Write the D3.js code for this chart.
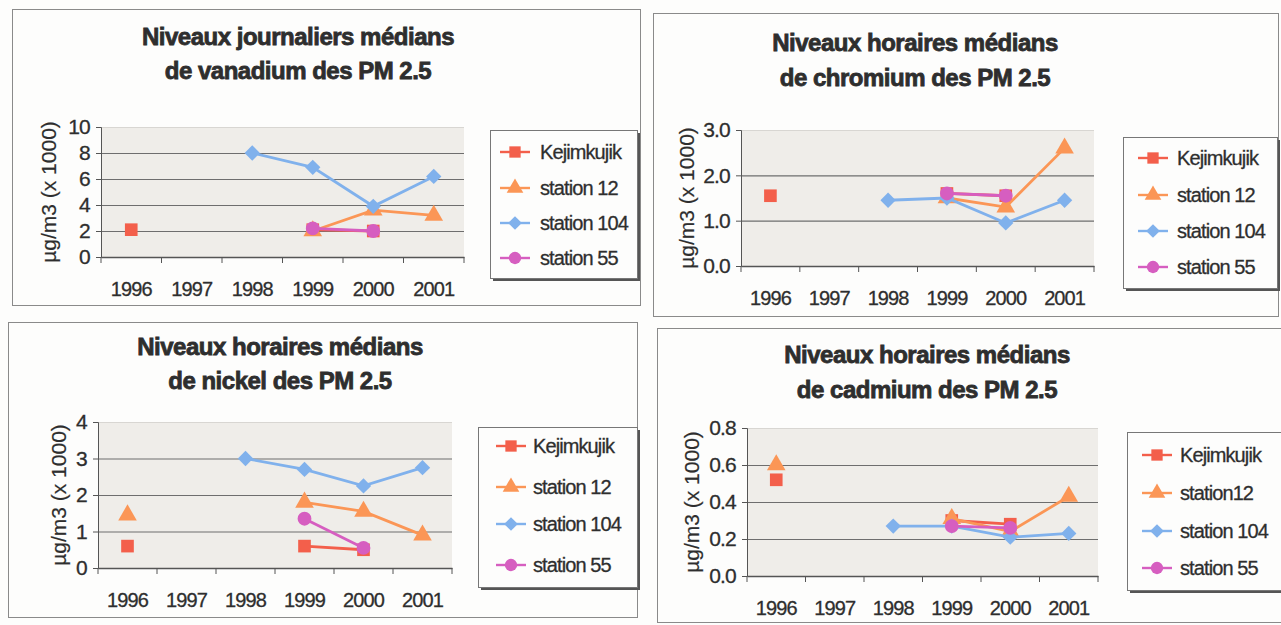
<!DOCTYPE html>
<html>
<head>
<meta charset="utf-8">
<script src="https://cdn.jsdelivr.net/npm/d3@7"></script>
<style>
  body { margin: 0; background: #fdfdfc; }
  svg { font-family: "Liberation Sans", Arial, sans-serif; }
</style>
</head>
<body>
<div id="vis"></div>
<script>
// ---- data ----
const years = ['1996', '1997', '1998', '1999', '2000', '2001'];
const seriesNames = ['Kejimkujik', 'station 12', 'station 104', 'station 55'];
const cadmiumNames = ['Kejimkujik', 'station12', 'station 104', 'station 55'];

// vanadium, daily medians
const vanadiumKejimkujik = [2.1, null, null, 2.1, 2.0, null];
const vanadiumStation12  = [null, null, null, 2.0, 3.6, 3.2];
const vanadiumStation104 = [null, null, 8.0, 6.9, 3.9, 6.2];
const vanadiumStation55  = [null, null, null, 2.2, 2.0, null];
const vanadiumTicks = [0, 2, 4, 6, 8, 10];

// chromium, hourly medians
const chromiumKejimkujik = [1.55, null, null, 1.6, 1.55, null];
const chromiumStation12  = [null, null, null, 1.5, 1.3, 2.6];
const chromiumStation104 = [null, null, 1.45, 1.5, 0.95, 1.45];
const chromiumStation55  = [null, null, null, 1.6, 1.55, null];
const chromiumTicks = [0, 1, 2, 3];

// nickel, hourly medians
const nickelKejimkujik = [0.6, null, null, 0.6, 0.5, null];
const nickelStation12  = [1.45, null, null, 1.8, 1.55, 0.9];
const nickelStation104 = [null, null, 3.0, 2.7, 2.25, 2.75];
const nickelStation55  = [null, null, null, 1.35, 0.55, null];
const nickelTicks = [0, 1, 2, 3, 4];

// cadmium, hourly medians
const cadmiumKejimkujik = [0.52, null, null, 0.3, 0.28, null];
const cadmiumStation12  = [0.6, null, null, 0.31, 0.24, 0.43];
const cadmiumStation104 = [null, null, 0.27, 0.27, 0.21, 0.23];
const cadmiumStation55  = [null, null, null, 0.27, 0.26, null];
const cadmiumTicks = [0, 0.2, 0.4, 0.6, 0.8];

// one colour / marker per station
const seriesColors = ['#f35f4b', '#fb9656', '#80b1ec', '#d65ec0'];
const seriesShapes = [d3.symbolSquare, d3.symbolTriangle, d3.symbolDiamond2, d3.symbolCircle];
const shapeSizes = [160, 150, 150, 150];
const inkColor = '#2e2e2e';

const svg = d3.select('#vis')
    .append('svg')
    .attr('width', 1281)
    .attr('height', 625);

// layout of the four panels (page coordinates)
const panels = [
  {
    title: ['Niveaux journaliers médians', 'de vanadium des PM 2.5'],
    titleX: 298, titleY: [45, 79],
    frame: [12, 9, 628, 296],
    plot: {left: 101, right: 464, top: 127, bottom: 257},
    yTitleX: 49,
    ticks: vanadiumTicks, fmt: d3.format('d'),
    values: [vanadiumKejimkujik, vanadiumStation12, vanadiumStation104, vanadiumStation55],
    names: seriesNames,
    legend: {x: 490, y: 130, w: 147, h: 148, rows: [152, 188, 223, 258], mark: 515, text: 540}
  },
  {
    title: ['Niveaux horaires médians', 'de chromium des PM 2.5'],
    titleX: 915, titleY: [51, 86],
    frame: [653, 13, 625, 303],
    plot: {left: 741, right: 1094, top: 130, bottom: 266},
    yTitleX: 687,
    ticks: chromiumTicks, fmt: d3.format('.1f'),
    values: [chromiumKejimkujik, chromiumStation12, chromiumStation104, chromiumStation55],
    names: seriesNames,
    legend: {x: 1123, y: 137, w: 154, h: 151, rows: [158, 195, 231, 267], mark: 1153, text: 1177}
  },
  {
    title: ['Niveaux horaires médians', 'de nickel des PM 2.5'],
    titleX: 280, titleY: [355, 389],
    frame: [8, 322, 629, 295],
    plot: {left: 98, right: 452, top: 422, bottom: 568},
    yTitleX: 59,
    ticks: nickelTicks, fmt: d3.format('d'),
    values: [nickelKejimkujik, nickelStation12, nickelStation104, nickelStation55],
    names: seriesNames,
    legend: {x: 478, y: 427, w: 159, h: 160, rows: [446, 487, 524, 565], mark: 511, text: 533}
  },
  {
    title: ['Niveaux horaires médians', 'de cadmium des PM 2.5'],
    titleX: 927, titleY: [363, 398],
    frame: [657, 328, 624, 294],
    plot: {left: 747, right: 1098, top: 428, bottom: 576},
    yTitleX: 692,
    ticks: cadmiumTicks, fmt: d3.format('.1f'),
    values: [cadmiumKejimkujik, cadmiumStation12, cadmiumStation104, cadmiumStation55],
    names: cadmiumNames,
    legend: {x: 1127, y: 432, w: 154, h: 158, rows: [455, 493, 531, 568], mark: 1157, text: 1180}
  }
];

panels.forEach(drawPanel);

// scanned text looks heavier than a plain font: add a thin outline
function ink(sel, w) {
  sel.style('fill', inkColor).style('stroke', inkColor).style('stroke-width', w);
}

function drawPanel(p) {
  const g = svg.append('g');

  // thin frame round the whole chart
  g.append('rect')
    .attr('x', p.frame[0] + 0.5).attr('y', p.frame[1] + 0.5)
    .attr('width', p.frame[2]).attr('height', p.frame[3])
    .attr('fill', 'none').attr('stroke', '#8a8a8a');

  // two-line bold title
  g.selectAll('.title')
    .data(p.title)
    .join('text')
    .attr('class', 'title')
    .attr('x', p.titleX)
    .attr('y', (d, i) => p.titleY[i])
    .attr('text-anchor', 'middle')
    .style('font-size', '24px')
    .style('font-weight', 'bold')
    .style('letter-spacing', '-0.5px')
    .text(d => d)
    .call(ink, 0.8);

  // scales: categories for years, linear for the values
  const xScale = d3.scaleBand()
    .domain(years)
    .range([p.plot.left, p.plot.right]);
  const yScale = d3.scaleLinear()
    .domain([0, d3.max(p.ticks)])
    .range([p.plot.bottom, p.plot.top]);
  const cx = i => xScale(years[i]) + xScale.bandwidth() / 2;

  // light grey plot area
  g.append('rect')
    .attr('x', p.plot.left).attr('y', p.plot.top)
    .attr('width', p.plot.right - p.plot.left)
    .attr('height', p.plot.bottom - p.plot.top)
    .attr('fill', '#efede9');

  // horizontal gridlines
  g.selectAll('.grid')
    .data(p.ticks.filter(t => t > 0))
    .join('line')
    .attr('class', 'grid')
    .attr('x1', p.plot.left).attr('x2', p.plot.right)
    .attr('y1', d => yScale(d) + 0.5).attr('y2', d => yScale(d) + 0.5)
    .attr('stroke', (d, i, n) => i === n.length - 1 ? '#d8d6d2' : '#6e6e6e')
    .attr('stroke-width', 1.2);

  // y axis
  const yAxis = d3.axisLeft(yScale)
    .tickValues(p.ticks)
    .tickFormat(p.fmt)
    .tickSize(5)
    .tickPadding(6);
  const yg = g.append('g')
    .attr('transform', `translate(${p.plot.left},0)`)
    .call(yAxis);
  yg.selectAll('text')
    .style('font-size', '21px').style('letter-spacing', '-0.8px')
    .call(ink, 0.3);
  yg.selectAll('path, line').attr('stroke', '#555');

  // x axis: labels at band centres, tick marks on band edges
  const xAxis = d3.axisBottom(xScale).tickSize(0).tickPadding(25);
  const xg = g.append('g')
    .attr('transform', `translate(0,${p.plot.bottom})`)
    .call(xAxis);
  xg.select('.domain').attr('stroke', '#555').attr('stroke-width', 1.3);
  xg.selectAll('text')
    .style('font-size', '20px').style('letter-spacing', '-0.9px')
    .call(ink, 0.3);
  g.selectAll('.xtick')
    .data(years.map(y => xScale(y)).concat([p.plot.right]))
    .join('line')
    .attr('class', 'xtick')
    .attr('x1', d => d).attr('x2', d => d)
    .attr('y1', p.plot.bottom).attr('y2', p.plot.bottom + 6)
    .attr('stroke', '#555');

  // y axis title
  g.append('text')
    .attr('transform', `translate(${p.yTitleX},${(p.plot.top + p.plot.bottom) / 2}) rotate(-90)`)
    .attr('dy', '0.35em')
    .attr('text-anchor', 'middle')
    .style('font-size', '21px')
    .text('µg/m3 (x 1000)')
    .call(ink, 0.2);

  // series lines, broken where a year is missing
  const line = d3.line()
    .defined(d => d != null)
    .x((d, i) => cx(i))
    .y(d => yScale(d));

  p.values.forEach((vals, s) => {
    g.append('path')
      .datum(vals)
      .attr('d', line)
      .attr('fill', 'none')
      .attr('stroke', seriesColors[s])
      .attr('stroke-width', 2.8);

    g.selectAll('.pt' + s)
      .data(vals.map((v, i) => ({v, i})).filter(d => d.v != null))
      .join('path')
      .attr('class', 'pt' + s)
      .attr('transform', d => `translate(${cx(d.i)},${yScale(d.v)})`)
      .attr('d', d3.symbol().type(seriesShapes[s]).size(shapeSizes[s]))
      .attr('fill', seriesColors[s]);
  });

  // legend with a shadowed box
  const L = p.legend;
  g.append('rect')
    .attr('x', L.x + 3).attr('y', L.y + 3)
    .attr('width', L.w).attr('height', L.h)
    .attr('fill', '#555');
  g.append('rect')
    .attr('x', L.x + 0.5).attr('y', L.y + 0.5)
    .attr('width', L.w).attr('height', L.h)
    .attr('fill', '#fdfdfc').attr('stroke', '#777');

  p.names.forEach((name, s) => {
    const ly = L.rows[s];
    g.append('line')
      .attr('x1', L.mark - 15).attr('x2', L.mark + 15)
      .attr('y1', ly).attr('y2', ly)
      .attr('stroke', seriesColors[s]).attr('stroke-width', 2.4);
    g.append('path')
      .attr('transform', `translate(${L.mark},${ly})`)
      .attr('d', d3.symbol().type(seriesShapes[s]).size(shapeSizes[s] * 0.8))
      .attr('fill', seriesColors[s]);
    g.append('text')
      .attr('x', L.text).attr('y', ly)
      .attr('dy', '0.35em')
      .style('font-size', '20px')
      .style('letter-spacing', '-0.9px')
      .text(name)
      .call(ink, 0.3);
  });
}
</script>
</body>
</html>
